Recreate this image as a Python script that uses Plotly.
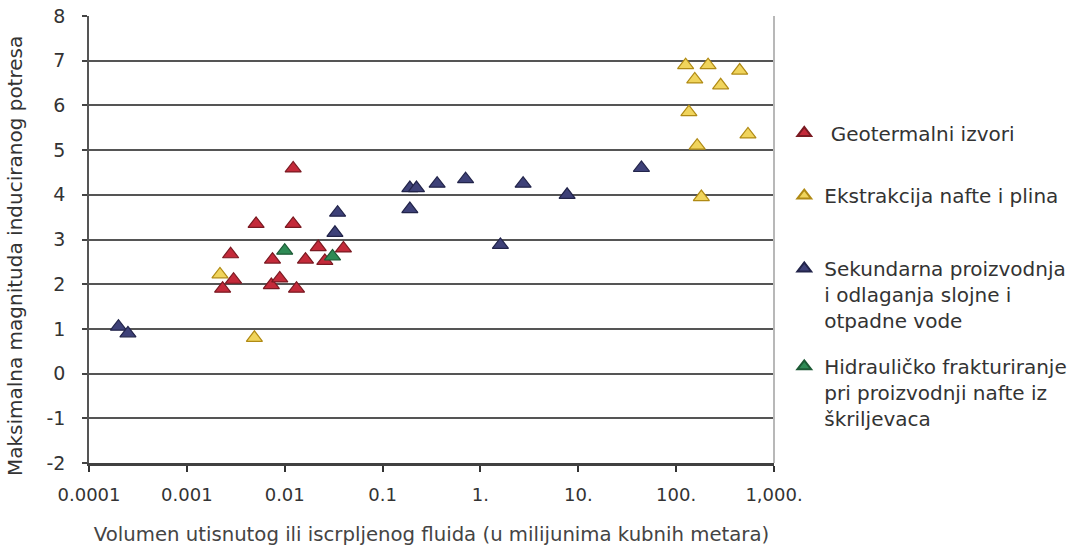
import plotly.graph_objects as go

# Volume of injected or extracted fluid (millions of m^3) and max induced magnitude
geo_x = [0.00232, 0.0030, 0.0028, 0.0051, 0.0075, 0.0073, 0.0089, 0.0122, 0.0122,
         0.0132, 0.0163, 0.022, 0.0257, 0.0398]
geo_y = [1.90, 2.10, 2.67, 3.35, 2.55, 1.98, 2.13, 4.59, 3.35,
         1.90, 2.55, 2.83, 2.52, 2.80]

oil_x = [0.00218, 0.0049, 125, 212, 446, 155, 285, 135, 542, 164, 181]
oil_y = [2.22, 0.80, 6.90, 6.90, 6.78, 6.58, 6.45, 5.85, 5.35, 5.10, 3.95]

sec_x = [0.0002, 0.00025, 0.0326, 0.0347, 0.19, 0.222, 0.19, 0.361, 0.705,
         1.60, 2.73, 7.69, 44.2]
sec_y = [1.05, 0.90, 3.15, 3.60, 4.15, 4.15, 3.68, 4.25, 4.35,
         2.88, 4.25, 4.00, 4.60]

frac_x = [0.0100, 0.0308]
frac_y = [2.75, 2.62]

x_tickvals = [1e-4, 1e-3, 1e-2, 1e-1, 1, 10, 100, 1000]
x_ticktext = ["0.0001", "0.001", "0.01", "0.1", "1.", "10.", "100.", "1,000."]
y_tickvals = [-2, -1, 0, 1, 2, 3, 4, 5, 6, 7, 8]
y_ticktext = ["-2", "-1", "0", "1", "2", "3", "4", "5", "6", "7", "8"]

series = [
    ("\u00a0Geotermalni izvori", geo_x, geo_y, "#c42a3a", "#7a1a22", "legend"),
    ("Ekstrakcija nafte i plina", oil_x, oil_y, "#f0d45c", "#b08a14", "legend2"),
    ("Sekundarna proizvodnja<br>i odlaganja slojne i<br>otpadne vode",
     sec_x, sec_y, "#3e4178", "#22244a", "legend3"),
    ("Hidrauličko frakturiranje<br>pri proizvodnji nafte iz<br>škriljevaca",
     frac_x, frac_y, "#2e8b55", "#1c5a35", "legend4"),
]

fig = go.Figure()
for name, xs, ys, fill, edge, leg in series:
    fig.add_trace(go.Scatter(
        x=xs, y=ys, mode="markers", name=name, legend=leg,
        marker=dict(symbol="triangle-up", size=14, color=fill,
                    line=dict(color=edge, width=1.2)),
    ))

leg_font = dict(family="DejaVu Sans, Verdana, sans-serif", size=20, color="#333333")
leg_common = dict(xanchor="left", yanchor="top", valign="top", font=leg_font,
                  bgcolor="rgba(0,0,0,0)", itemsizing="constant", itemwidth=30)
leg_x = 1.015
fig.update_layout(
    legend=dict(x=leg_x, y=0.782, **leg_common),
    legend2=dict(x=leg_x, y=0.642, **leg_common),
    legend3=dict(x=leg_x, y=0.479, **leg_common),
    legend4=dict(x=leg_x, y=0.26, **leg_common),
)

fig.update_xaxes(
    type="log", range=[-4, 3], tickvals=x_tickvals, ticktext=x_ticktext,
    showgrid=False, zeroline=False,
    showline=True, linecolor="#404040", linewidth=3,
    ticks="outside", ticklen=6, tickwidth=2, tickcolor="#333333",
    ticklabelstandoff=7,
    tickfont=dict(family="DejaVu Sans, Verdana, sans-serif", size=18, color="#333333"),
    title=dict(text="Volumen utisnutog ili iscrpljenog fluida (u milijunima kubnih metara)",
               font=dict(family="DejaVu Sans, Verdana, sans-serif", size=19.7, color="#444444"),
               standoff=24),
)
fig.update_yaxes(
    range=[-2, 8], tickvals=y_tickvals, ticktext=y_ticktext,
    showgrid=True, gridcolor="#555555", gridwidth=2, zeroline=False,
    showline=True, linecolor="#555555", linewidth=1.5,
    ticks="outside", ticklen=5, tickwidth=1.5, tickcolor="#444444",
    ticklabelstandoff=13,
    tickfont=dict(family="DejaVu Sans, Verdana, sans-serif", size=19, color="#333333"),
)

# vertical y-axis title, centred slightly below the plot middle
fig.add_annotation(
    text="Maksimalna magnituda induciranog potresa",
    xref="paper", yref="paper", x=-0.108, y=0.463,
    xanchor="center", yanchor="middle", textangle=-90, showarrow=False,
    font=dict(family="DejaVu Sans, Verdana, sans-serif", size=20, color="#333333"),
)

# light frame on the right edge of the plotting area
fig.add_shape(type="line", xref="paper", yref="paper", x0=1, x1=1, y0=0, y1=1,
              line=dict(color="#b8b8b8", width=2))

fig.update_layout(
    width=1074, height=549,
    margin=dict(l=89, r=300, t=16, b=86, autoexpand=False),
    paper_bgcolor="white", plot_bgcolor="white",
    showlegend=True,
)

fig.write_html("out.html")
